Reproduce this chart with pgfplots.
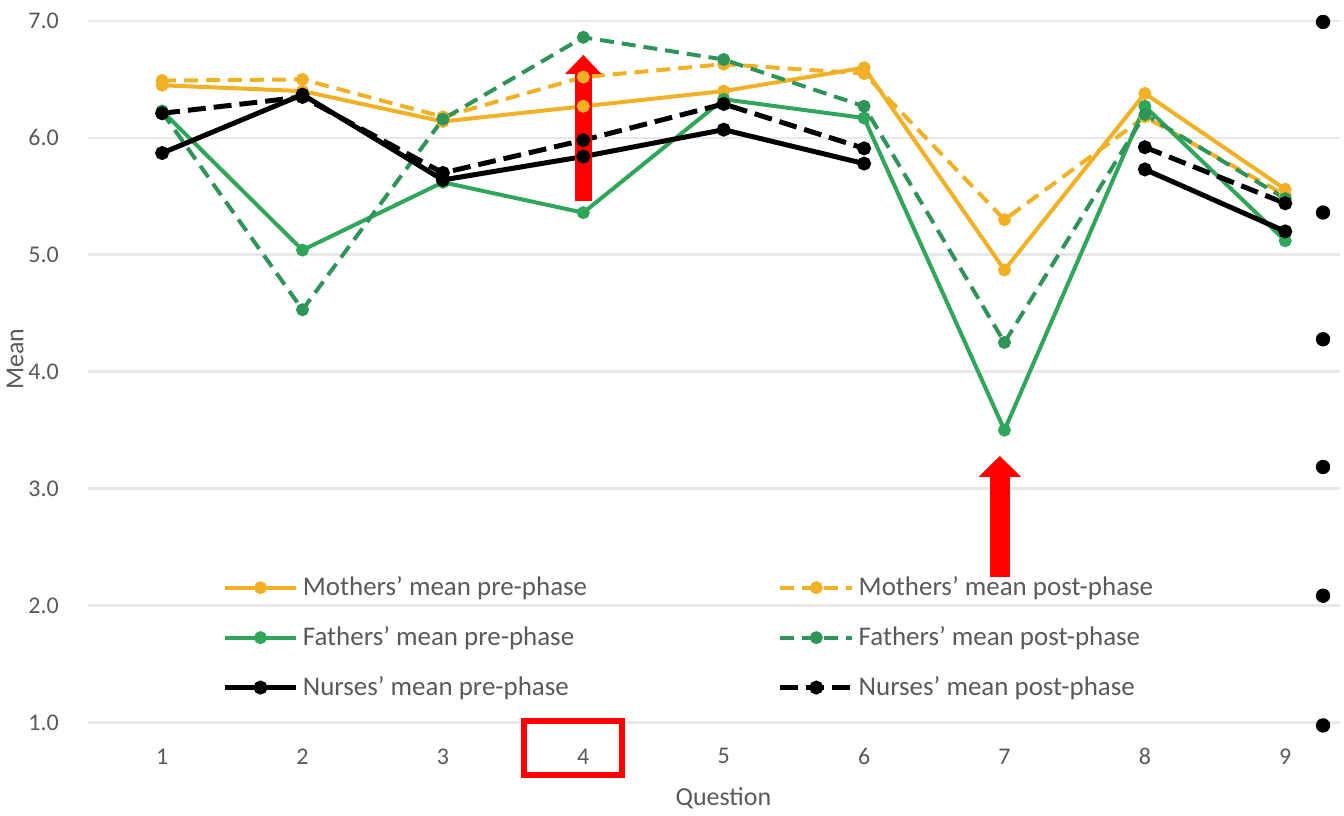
\documentclass[border=0pt]{standalone}
\usepackage{fontspec}
\setmainfont{Carlito}
\usepackage{pgfplots}
\pgfplotsset{compat=1.18}
\usetikzlibrary{arrows.meta}
\definecolor{cOrange}{HTML}{F2B124}
\definecolor{cGreen}{HTML}{2FA65A}
\definecolor{cGreenD}{HTML}{2E9457}
\definecolor{cGrid}{HTML}{E8E8E8}
\definecolor{cText}{HTML}{595959}
\begin{document}
\begin{tikzpicture}
\begin{axis}[
  scale only axis,
  width=627.5pt, height=351.5pt,
  xmin=0.47, xmax=9.39, ymin=1, ymax=7,
  xtick={1,...,9}, ytick={1,...,7},
  axis line style={draw=none},
  major tick length=0pt,
  ymajorgrids, grid style={cGrid, line width=1.3pt},
  /pgf/number format/assume math mode=true,
  yticklabel style={/pgf/number format/fixed, /pgf/number format/fixed zerofill, /pgf/number format/precision=1, font=\fontsize{12}{14}\selectfont, text=cText, anchor=east, xshift=-11pt},
  xticklabel style={font=\fontsize{12}{14}\selectfont, text=cText, anchor=center, yshift=-17pt},
  xlabel={Question}, ylabel={Mean},
  xlabel style={font=\fontsize{13}{15}\selectfont, text=cText, at={(axis description cs:0.5076,-0.108)}, anchor=center},
  ylabel style={font=\fontsize{13}{15}\selectfont, text=cText, at={(axis description cs:-0.058,0.518)}, anchor=center, rotate=0},
  unbounded coords=jump,
  clip=false,
  legend columns=2,
  legend cell align=left,
  legend style={at={(rel axis cs:0.107,0.214)}, anchor=north west, draw=none, fill=none, inner sep=0pt, row sep=10pt, font=\fontsize{13.5}{15}\selectfont, text=cText},
  legend image code/.code={\draw[mark repeat=2,mark phase=2,#1] plot coordinates {(0pt,0pt) (18pt,0pt) (36pt,0pt)};},
  every axis plot/.append style={mark=*, mark size=2.2pt},
]
% Mothers pre
\addplot[cOrange, line width=2pt, mark options={solid}] coordinates {(1,6.45) (2,6.40) (3,6.14) (4,6.27) (5,6.40) (6,6.60) (7,4.87) (8,6.38) (9,5.56)};
\addlegendentry{\makebox[236pt][l]{Mothers' mean pre-phase}}
% Mothers post
\addplot[cOrange, line width=2pt, dash pattern=on 7pt off 4pt, mark options={solid}] coordinates {(1,6.49) (2,6.50) (3,6.18) (4,6.52) (5,6.63) (6,6.55) (7,5.30) (8,6.18) (9,5.51)};
\addlegendentry{Mothers' mean post-phase}
% Fathers pre
\addplot[cGreen, line width=2pt, mark options={solid}] coordinates {(1,6.23) (2,5.04) (3,5.62) (4,5.36) (5,6.33) (6,6.17) (7,3.50) (8,6.27) (9,5.12)};
\addlegendentry{\makebox[236pt][l]{Fathers' mean pre-phase}}
% Fathers post
\addplot[cGreenD, line width=2pt, dash pattern=on 7pt off 4pt, mark options={solid}] coordinates {(1,6.22) (2,4.53) (3,6.16) (4,6.86) (5,6.67) (6,6.27) (7,4.25) (8,6.20) (9,5.48)};
\addlegendentry{Fathers' mean post-phase}
% Nurses pre
\addplot[black, line width=2.5pt, mark options={solid}] coordinates {(1,5.87) (2,6.37) (3,5.64) (4,5.84) (5,6.07) (6,5.78) (7,nan) (8,5.73) (9,5.20)};
\addlegendentry{\makebox[236pt][l]{Nurses' mean pre-phase}}
% Nurses post
\addplot[black, line width=2.5pt, dash pattern=on 9pt off 4pt, mark options={solid}] coordinates {(1,6.21) (2,6.35) (3,5.70) (4,5.98) (5,6.29) (6,5.91) (7,nan) (8,5.92) (9,5.44)};
\addlegendentry{Nurses' mean post-phase}
% red arrows
\draw[red, line width=8.5pt, -{Triangle[width=17.5pt, length=9.5pt]}] (axis cs:4,5.456) -- (axis cs:4,6.71);
\draw[red, line width=10pt, -{Triangle[width=20.5pt, length=10.5pt]}] (axis cs:6.967,2.247) -- (axis cs:6.967,3.28);
\end{axis}
% red box around tick label 4
\draw[red, line width=3pt] (218.5pt,0.5pt) rectangle (267.5pt,-26.5pt);
% slide bullets
\foreach \yy in {351,255.5,192,128,63.5,-1.5} \fill[black] (619pt,\yy pt) circle (3.6pt);
\path[use as bounding box] (-42.5pt,-45pt) rectangle (629.5pt,362pt);
\end{tikzpicture}
\end{document}
